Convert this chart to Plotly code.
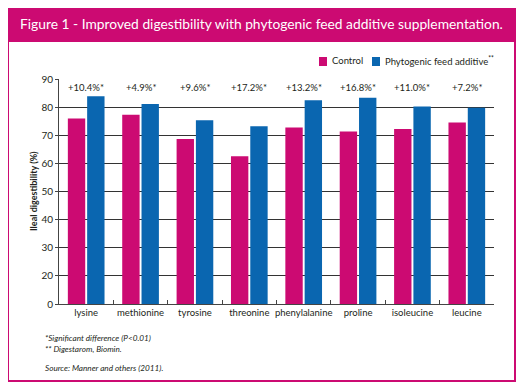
import plotly.graph_objects as go

categories = ["lysine", "methionine", "tyrosine", "threonine", "phenylalanine",
              "proline", "isoleucine", "leucine"]
control = [76.0, 77.3, 68.7, 62.5, 72.8, 71.3, 72.2, 74.5]
phytogenic = [83.9, 81.1, 75.3, 73.2, 82.4, 83.3, 80.2, 79.8]
improvement = ["+10.4%*", "+4.9%*", "+9.6%*", "+17.2%*", "+13.2%*", "+16.8%*",
               "+11.0%*", "+7.2%*"]
ytick_vals = [10, 20, 30, 40, 50, 60, 70, 80, 90]
ytick_text = ["0", "20", "30", "40", "50", "60", "70", "80", "90"]
series_names = ["Control", "Phytogenic feed additive"]

MAGENTA = "#cc0a72"
BLUE = "#0a66b0"
TXT = "#231f20"
FONT = "Lato"

# page offset (body margin)
OFF = 8
W, H = 524 - OFF, 392 - OFF
L, R, T, B = 59, 494, 79, 304   # plot area in page pixels


def px(x):
    return (x - L) / (R - L)


def py(y):
    return (B - y) / (B - T)


fig = go.Figure()
fig.add_trace(go.Bar(x=categories, y=control, name=series_names[0],
                     marker=dict(color=MAGENTA, line=dict(width=0))))
fig.add_trace(go.Bar(x=categories, y=phytogenic, name=series_names[1],
                     marker=dict(color=BLUE, line=dict(width=0))))

annotations = []
for c, t in zip(categories, improvement):
    annotations.append(dict(x=c, y=87, xref="x", yref="y", text=t, showarrow=False,
                            font=dict(size=9.5, color=TXT, family=FONT)))

# title
annotations.append(dict(x=px(18), y=py(24), xref="paper", yref="paper",
                        xanchor="left", yanchor="middle", showarrow=False,
                        text="Figure 1 - Improved digestibility with phytogenic feed additive supplementation.",
                        font=dict(size=13.8, color="white", family=FONT)))
# y axis title
annotations.append(dict(x=px(33), y=py(191), xref="paper", yref="paper",
                        xanchor="center", yanchor="middle", showarrow=False,
                        textangle=-90, text="<b>Ileal digestibility (%)</b>",
                        font=dict(size=9, color=TXT, family=FONT)))
# footnotes
for yy, t in [(338, "<i>*Significant difference (P<0.01)</i>"),
              (349, "<i>** Digestarom, Biomin.</i>"),
              (368, "<i>Source: Manner and others (2011).</i>")]:
    annotations.append(dict(x=px(43), y=py(yy), xref="paper", yref="paper",
                            xanchor="left", yanchor="middle", showarrow=False,
                            text=t, font=dict(size=8.2, color=TXT, family=FONT)))

# manual legend
legend_items = [(319, MAGENTA, series_names[0]),
                (372, BLUE, series_names[1] + "<sup>**</sup>")]
shapes = [
    dict(type="rect", xref="paper", yref="paper", x0=px(8), x1=px(515),
         y0=py(381), y1=py(6), line=dict(color=MAGENTA, width=2),
         fillcolor="rgba(0,0,0,0)", layer="below"),
    dict(type="rect", xref="paper", yref="paper", x0=px(8), x1=px(515),
         y0=py(42), y1=py(6), line=dict(color=MAGENTA, width=0),
         fillcolor=MAGENTA, layer="below"),
]
for xx, col, name in legend_items:
    shapes.append(dict(type="rect", xref="paper", yref="paper", x0=px(xx), x1=px(xx + 8),
                       y0=py(66), y1=py(57), line=dict(width=0), fillcolor=col))
    annotations.append(dict(x=px(xx + 11), y=py(61), xref="paper", yref="paper",
                            xanchor="left", yanchor="middle", showarrow=False,
                            text=name, font=dict(size=9.5, color=TXT, family=FONT)))

fig.update_layout(
    width=W, height=H,
    margin=dict(l=L - OFF, r=524 - R, t=T - OFF, b=392 - B, pad=0, autoexpand=False),
    paper_bgcolor="white", plot_bgcolor="white",
    barmode="group", bargap=0.29, bargroupgap=0.1,
    font=dict(family=FONT, color=TXT, size=10),
    showlegend=False,
    annotations=annotations,
    shapes=shapes,
    xaxis=dict(showline=True, linecolor="#444", linewidth=1, ticks="inside",
               tickson="boundaries", ticklen=4, tickcolor="#444", tickangle=0,
               tickfont=dict(size=9.5, color=TXT, family=FONT), showgrid=False),
    yaxis=dict(range=[10, 90], tickvals=ytick_vals, ticktext=ytick_text,
               showline=True, linecolor="#444", linewidth=1, ticks="outside",
               ticklen=3, tickcolor="#444", showgrid=True, gridcolor="#333",
               gridwidth=1, zeroline=False,
               tickfont=dict(size=10, color=TXT, family=FONT)),
)

fig.write_html("out.html")
